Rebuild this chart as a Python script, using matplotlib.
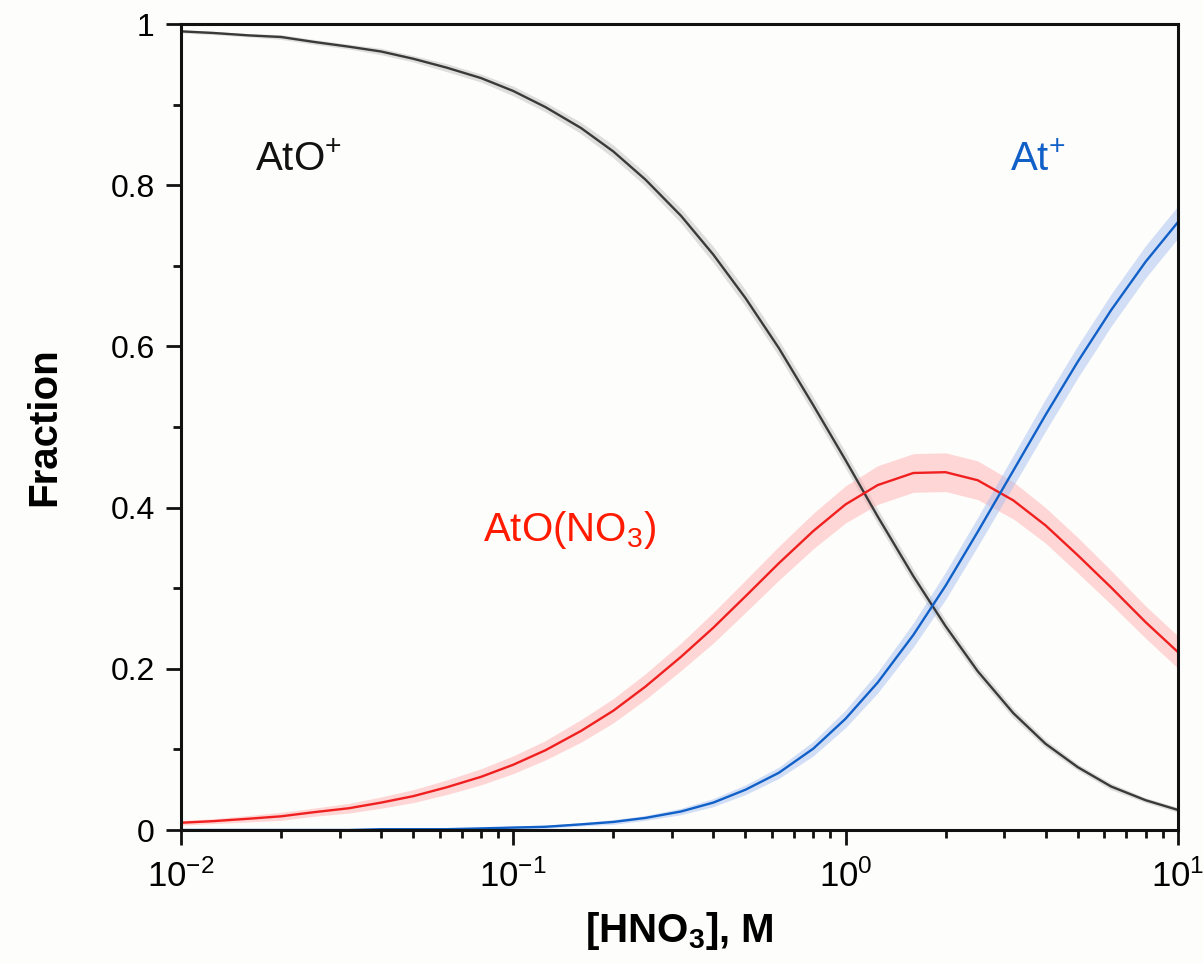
import numpy as np
import matplotlib.pyplot as plt
from matplotlib.ticker import LogLocator, FixedLocator, NullFormatter

plt.rcParams['font.family'] = ['Liberation Sans', 'DejaVu Sans']
plt.rcParams['mathtext.fontset'] = 'custom'
plt.rcParams['mathtext.rm'] = 'Liberation Sans'
plt.rcParams['mathtext.it'] = 'Liberation Sans:italic'
plt.rcParams['mathtext.bf'] = 'Liberation Sans:bold'

# [HNO3] in M
hno3 = [0.01, 0.0125, 0.016, 0.02, 0.025, 0.032, 0.04, 0.05, 0.063, 0.08,
        0.1, 0.125, 0.16, 0.2, 0.25, 0.32, 0.4, 0.5, 0.63, 0.8,
        1.0, 1.25, 1.6, 2.0, 2.5, 3.2, 4.0, 5.0, 6.3, 8.0, 10.0]

ato = [0.991, 0.989, 0.986, 0.984, 0.978, 0.972, 0.966, 0.957, 0.946, 0.933,
       0.917, 0.897, 0.871, 0.842, 0.807, 0.762, 0.714, 0.660, 0.598, 0.527,
       0.459, 0.389, 0.315, 0.253, 0.197, 0.145, 0.107, 0.078, 0.054, 0.037, 0.025]
ato_err = [0.002, 0.002, 0.002, 0.003, 0.003, 0.003, 0.004, 0.004, 0.005, 0.005,
           0.006, 0.006, 0.007, 0.008, 0.008, 0.009, 0.010, 0.010, 0.010, 0.010,
           0.010, 0.009, 0.009, 0.008, 0.007, 0.006, 0.005, 0.004, 0.004, 0.003, 0.003]

ato_no3 = [0.009, 0.011, 0.014, 0.017, 0.022, 0.027, 0.034, 0.042, 0.053, 0.066,
           0.081, 0.099, 0.123, 0.148, 0.178, 0.215, 0.251, 0.290, 0.331, 0.371,
           0.404, 0.428, 0.443, 0.444, 0.434, 0.409, 0.378, 0.341, 0.301, 0.258, 0.221]
ato_no3_err = [0.003, 0.003, 0.004, 0.005, 0.005, 0.006, 0.007, 0.008, 0.009, 0.010,
               0.011, 0.012, 0.014, 0.015, 0.016, 0.017, 0.019, 0.020, 0.021, 0.022,
               0.023, 0.024, 0.024, 0.024, 0.024, 0.023, 0.022, 0.022, 0.021, 0.020, 0.020]

at = [0.000, 0.000, 0.000, 0.000, 0.000, 0.000, 0.001, 0.001, 0.001, 0.002,
      0.003, 0.004, 0.007, 0.010, 0.015, 0.023, 0.034, 0.050, 0.071, 0.101,
      0.138, 0.183, 0.242, 0.303, 0.370, 0.446, 0.515, 0.581, 0.645, 0.705, 0.754]
at_err = [0.001, 0.001, 0.001, 0.001, 0.001, 0.001, 0.001, 0.001, 0.001, 0.001,
          0.002, 0.002, 0.002, 0.003, 0.003, 0.004, 0.005, 0.006, 0.007, 0.009,
          0.011, 0.013, 0.015, 0.017, 0.018, 0.019, 0.020, 0.020, 0.020, 0.020, 0.020]

x = np.array(hno3)
series = [
    (np.array(ato), np.array(ato_err), '#3a3a3a', '#b0b0b0', 0.4),
    (np.array(ato_no3), np.array(ato_no3_err), '#f02020', '#ffb0b0', 0.5),
    (np.array(at), np.array(at_err), '#1060c8', '#a8c0f0', 0.5),
]

bg = '#fdfdfb'
fig = plt.figure(figsize=(12.03, 9.64), dpi=100, facecolor=bg)
ax = fig.add_axes([0.1505, 0.139, 0.8285, 0.836])
ax.set_facecolor(bg)

for y, e, lc, fc, a in series:
    ax.fill_between(x, y - e, y + e, color=fc, alpha=a, lw=0)
for y, e, lc, fc, a in series:
    ax.plot(x, y, color=lc, lw=1.7, solid_joinstyle='round')

ax.set_xscale('log')
ax.set_xlim(0.01, 10)
ax.set_ylim(0, 1)

ax.set_yticks([0, 0.2, 0.4, 0.6, 0.8, 1.0])
ax.set_yticklabels(['0', '0.2', '0.4', '0.6', '0.8', '1'])
ax.yaxis.set_minor_locator(FixedLocator([0.1, 0.3, 0.5, 0.7, 0.9]))
ax.set_xticks([0.01, 0.1, 1, 10])
ax.set_xticklabels(['$10^{-2}$', '$10^{-1}$', '$10^{0}$', '$10^{1}$'])
ax.xaxis.set_minor_locator(LogLocator(base=10, subs=np.arange(2, 10)))
ax.xaxis.set_minor_formatter(NullFormatter())

ax.tick_params(which='major', direction='out', length=11, width=2, labelsize=23, pad=8, color='#111111')
ax.tick_params(which='minor', direction='out', length=6, width=2, color='#111111')
ax.tick_params(axis='x', which='major', labelsize=25, pad=10)
for s in ax.spines.values():
    s.set_linewidth(2.2)
    s.set_color('#111111')

ax.set_ylabel('Fraction', fontsize=29, fontweight='bold', labelpad=34)
ax.set_xlabel(r'[HNO$_\mathbf{3}$], M', fontsize=29, fontweight='bold', labelpad=12)

ax.text(0.0167, 0.831, 'AtO$^{+}$', fontsize=29, color='#111111', va='center', ha='left')
ax.text(3.13, 0.831, 'At$^{+}$', fontsize=29, color='#1060c8', va='center', ha='left')
ax.text(0.081, 0.372, 'AtO(NO$_3$)', fontsize=29, color='#ff1a00', va='center', ha='left')

fig.savefig('out.png', dpi=100, facecolor=bg)
